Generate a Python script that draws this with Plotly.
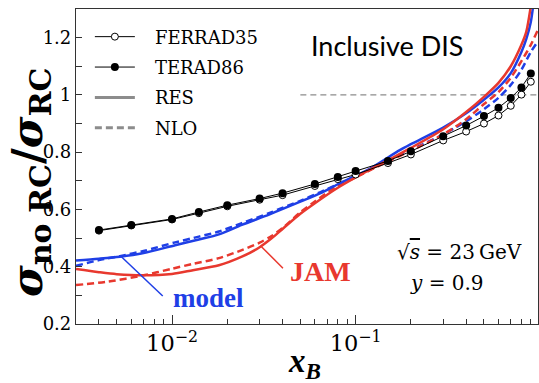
import plotly.graph_objects as go

# ---- data ----
x_pts = [0.004, 0.006, 0.01, 0.014, 0.02, 0.03, 0.04, 0.06, 0.08, 0.1, 0.15, 0.2, 0.3, 0.4, 0.5, 0.6, 0.7, 0.8, 0.9]
terad86 = [0.528, 0.546, 0.567, 0.591, 0.615, 0.638, 0.657, 0.689, 0.713, 0.734, 0.769, 0.803, 0.856, 0.893, 0.926, 0.955, 0.989, 1.026, 1.075]
ferrad35 = [0.526, 0.544, 0.565, 0.587, 0.611, 0.634, 0.650, 0.682, 0.706, 0.722, 0.762, 0.792, 0.841, 0.872, 0.900, 0.928, 0.962, 1.001, 1.046]

jam_res_x = [0.003, 0.004, 0.005, 0.007, 0.01, 0.013, 0.018, 0.024, 0.03, 0.035, 0.04, 0.05, 0.06, 0.08, 0.1, 0.15, 0.2, 0.3, 0.4, 0.5, 0.6, 0.7, 0.8, 0.85, 0.9, 0.93]
jam_res_y = [0.392, 0.381, 0.374, 0.370, 0.375, 0.388, 0.405, 0.435, 0.468, 0.500, 0.532, 0.585, 0.622, 0.676, 0.712, 0.772, 0.815, 0.880, 0.940, 0.993, 1.042, 1.100, 1.175, 1.220, 1.310, 1.380]

jam_nlo_x = [0.003, 0.0045, 0.007, 0.01, 0.013, 0.018, 0.024, 0.03, 0.035, 0.04, 0.05, 0.06, 0.08, 0.1, 0.15, 0.2, 0.3, 0.4, 0.5, 0.6, 0.7, 0.8, 0.9, 0.98]
jam_nlo_y = [0.336, 0.348, 0.370, 0.393, 0.410, 0.430, 0.458, 0.484, 0.508, 0.535, 0.590, 0.628, 0.683, 0.712, 0.768, 0.805, 0.862, 0.915, 0.968, 1.010, 1.060, 1.118, 1.175, 1.225]

model_res_x = [0.003, 0.004, 0.0052, 0.007, 0.0104, 0.014, 0.018, 0.024, 0.034, 0.05, 0.064, 0.08, 0.1, 0.12, 0.174, 0.2, 0.3, 0.4, 0.5, 0.6, 0.7, 0.8, 0.85, 0.9, 0.95]
model_res_y = [0.422, 0.428, 0.435, 0.448, 0.475, 0.495, 0.513, 0.546, 0.583, 0.627, 0.656, 0.688, 0.718, 0.743, 0.807, 0.828, 0.886, 0.936, 0.983, 1.026, 1.076, 1.150, 1.195, 1.255, 1.370]

model_nlo_x = [0.003, 0.004, 0.0052, 0.007, 0.0104, 0.014, 0.018, 0.024, 0.034, 0.05, 0.064, 0.08, 0.1, 0.15, 0.2, 0.3, 0.4, 0.5, 0.6, 0.7, 0.8, 0.9, 0.98]
model_nlo_y = [0.403, 0.423, 0.437, 0.455, 0.485, 0.505, 0.523, 0.552, 0.588, 0.630, 0.660, 0.688, 0.716, 0.770, 0.808, 0.862, 0.908, 0.950, 0.990, 1.035, 1.088, 1.150, 1.185]

RED = "#E8382E"
BLUE = "#1F3FE6"
GRAY = "#8c8c8c"
SERIF = "Liberation Serif, Times New Roman, serif"
DSERIF = "DejaVu Serif, serif"
NB = "\u00a0\u00a0\u2009"

fig = go.Figure()

curve = dict(mode="lines", showlegend=False, line_shape="spline")
fig.add_trace(go.Scatter(x=model_nlo_x, y=model_nlo_y, line=dict(color=BLUE, width=2.5, dash="7px,4px", smoothing=0.8), **curve))
fig.add_trace(go.Scatter(x=jam_nlo_x, y=jam_nlo_y, line=dict(color=RED, width=2.5, dash="7px,4px", smoothing=0.8), **curve))
fig.add_trace(go.Scatter(x=model_res_x, y=model_res_y, line=dict(color=BLUE, width=2.5, smoothing=0.8), **curve))
fig.add_trace(go.Scatter(x=jam_res_x, y=jam_res_y, line=dict(color=RED, width=2.5, smoothing=0.8), **curve))

# data points
fig.add_trace(go.Scatter(x=x_pts, y=ferrad35, mode="lines+markers", name=NB + "FERRAD35",
                         line=dict(color="black", width=1),
                         marker=dict(symbol="circle", size=7, color="white", line=dict(color="black", width=1)),
                         legendrank=1, legendgroup="g1"))
fig.add_trace(go.Scatter(x=x_pts, y=terad86, mode="lines+markers", name=NB + "TERAD86",
                         line=dict(color="black", width=1),
                         marker=dict(symbol="circle", size=8, color="black"),
                         legendrank=2, legendgroup="g2"))
# legend-only style entries
fig.add_trace(go.Scatter(x=[None], y=[None], mode="lines", name=NB + "RES",
                         line=dict(color=GRAY, width=3), legendrank=3, legendgroup="g3"))
fig.add_trace(go.Scatter(x=[None], y=[None], mode="lines", name=NB + "NLO",
                         line=dict(color=GRAY, width=3, dash="7px,4px"), legendrank=4, legendgroup="g4"))

# reference line at 1
fig.add_shape(type="line", xref="x", yref="y", x0=0.05, x1=0.985, y0=1, y1=1,
              line=dict(color=GRAY, width=1.3, dash="6px,4px"), layer="below")

# connector lines for labels
fig.add_shape(type="line", xref="x", yref="y", x0=0.0053, y0=0.435, x1=0.0089, y1=0.298,
              line=dict(color=BLUE, width=1.5))
fig.add_shape(type="line", xref="x", yref="y", x0=0.0307, y0=0.470, x1=0.0402, y1=0.395,
              line=dict(color=RED, width=1.5))

ann = dict(showarrow=False, xanchor="center", yanchor="middle")
fig.add_annotation(x=-1.80, y=0.291, xref="x", yref="y", text="<b>model</b>",
                   font=dict(family=SERIF, size=27, color=BLUE), **ann)
fig.add_annotation(x=-1.19, y=0.385, xref="x", yref="y", text="<b>JAM</b>",
                   font=dict(family=SERIF, size=28, color=RED), **ann)

fig.add_annotation(x=0.674, y=0.883, xref="paper", yref="paper", text="Inclusive DIS",
                   font=dict(family="Lato", size=27, color="black"), **ann)
fig.add_annotation(x=0.831, y=0.2286, xref="paper", yref="paper",
                   text="√<span style='text-decoration:overline'><i>s</i></span> = 23\u2009GeV",
                   font=dict(family=DSERIF, size=20, color="black"), **ann)
fig.add_annotation(x=0.803, y=0.130, xref="paper", yref="paper", text="<i>y</i> = 0.9",
                   font=dict(family=DSERIF, size=20, color="black"), **ann)

# axis titles
fig.add_annotation(x=-0.10, y=0.45, xref="paper", yref="paper", textangle=-90,
                   text="<b><i>σ</i><sub>no RC</sub>/<i>σ</i><sub>RC</sub></b>",
                   font=dict(family="DejaVu Serif", size=43, color="black"), **ann)
fig.add_annotation(x=0.495, y=-0.124, xref="paper", yref="paper",
                   text="<b><i>x</i><sub><i>B</i></sub></b>",
                   font=dict(family=SERIF, size=33, color="black"), **ann)

fig.update_xaxes(type="log", range=[-2.523, -0.0066], dtick=1, exponentformat="power",
                 showgrid=False, zeroline=False, automargin=False,
                 ticks="inside", ticklen=9, tickwidth=1, tickcolor="#333",
                 minor=dict(ticks="inside", ticklen=5, tickwidth=1, tickcolor="#333", dtick="D1", showgrid=False),
                 showline=True, linecolor="#333", linewidth=1.2, mirror=True,
                 tickfont=dict(family=DSERIF, size=18, color="black"))
fig.update_yaxes(range=[0.2, 1.3], dtick=0.2, tick0=0.2, tickformat="~g",
                 showgrid=False, zeroline=False, automargin=False,
                 ticks="inside", ticklen=6, tickwidth=1, tickcolor="#333",
                 minor=dict(ticks="inside", ticklen=6, tickwidth=1, tickcolor="#333", dtick=0.1, showgrid=False),
                 showline=True, linecolor="#333", linewidth=1.2, mirror=True,
                 tickfont=dict(family=DSERIF, size=18, color="black"))

fig.update_layout(width=539, height=383, margin=dict(l=76, r=1, t=9, b=59, autoexpand=False),
                  font=dict(family=DSERIF, color="black"),
                  plot_bgcolor="white", paper_bgcolor="white",
                  legend=dict(x=0.03, y=0.97, xanchor="left", yanchor="top", bgcolor="rgba(0,0,0,0)",
                              font=dict(family=DSERIF, size=18, color="black"),
                              traceorder="grouped", tracegroupgap=4, itemwidth=40))

fig.write_html("out.html", config={"displayModeBar": False},
               post_script="document.body.style.margin='0';document.body.style.overflow='hidden';")
